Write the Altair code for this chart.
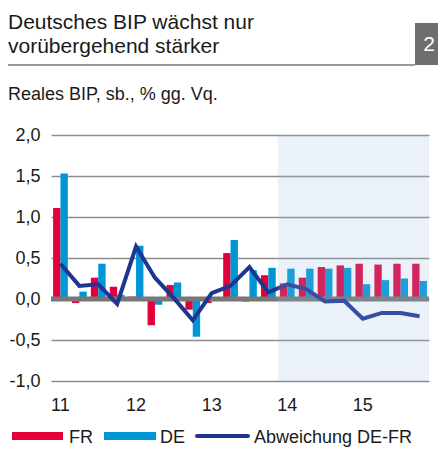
import altair as alt
import pandas as pd

# ---- data ----
quarters = ["11-1", "11-2", "11-3", "11-4", "12-1", "12-2", "12-3", "12-4",
            "13-1", "13-2", "13-3", "13-4", "14-1", "14-2", "14-3", "14-4",
            "15-1", "15-2", "15-3", "15-4"]
year_ticks = ["11-1", "12-1", "13-1", "14-1", "15-1"]
fr = [1.11, -0.05, 0.26, 0.15, 0.03, -0.32, 0.17, -0.13, -0.05, 0.56,
      -0.03, 0.29, 0.19, 0.26, 0.39, 0.41, 0.43, 0.42, 0.43, 0.43]
de = [1.53, 0.09, 0.43, 0.05, 0.65, -0.07, 0.20, -0.46, 0.02, 0.72,
      0.35, 0.38, 0.37, 0.37, 0.37, 0.38, 0.18, 0.23, 0.25, 0.22]
diff = [0.43, 0.16, 0.18, -0.06, 0.64, 0.26, 0.01, -0.26, 0.07, 0.16,
        0.39, 0.08, 0.18, 0.12, -0.03, -0.02, -0.24, -0.17, -0.17, -0.21]
series = ["FR", "DE"]
line_name = "Abweichung DE-FR"
forecast_start = "14-1"
y_ticks = [-1.0, -0.5, 0.0, 0.5, 1.0, 1.5, 2.0]
title_lines = ["Deutsches BIP wächst nur", "vorübergehend stärker"]
subtitle = "Reales BIP, sb., % gg. Vq."
chart_no = "2"

RED = "#e2003a"
BLUE = "#0096d6"
NAVY = "#1f3592"
FONT = "Liberation Sans"

bar_df = pd.DataFrame(
    [{"q": q, "s": "FR", "v": v} for q, v in zip(quarters, fr)]
    + [{"q": q, "s": "DE", "v": v} for q, v in zip(quarters, de)]
)
line_df = pd.DataFrame({"q": quarters, "v": diff})

xscale = alt.Scale(paddingInner=0.22, paddingOuter=0.11)
yscale = alt.Scale(domain=[-1, 2], nice=False)

ylabel = ("(datum.value < 0 ? '-' : '') + "
          "replace(format(abs(datum.value), '.1f'), '.', ',')")

bars = alt.Chart(bar_df).mark_bar().encode(
    x=alt.X("q:O", sort=quarters, scale=xscale, title=None,
            axis=alt.Axis(values=year_ticks, labelExpr="split(datum.value,'-')[0]",
                          ticks=False, domain=False, labelAngle=0, labelFontSize=18,
                          labelPadding=15, grid=False, labelFont=FONT, labelColor="#1a1a1a")),
    xOffset=alt.XOffset("s:N", sort=series, scale=alt.Scale(paddingInner=0.0)),
    y=alt.Y("v:Q", scale=yscale, title=None,
            axis=alt.Axis(values=y_ticks, labelExpr=ylabel,
                          ticks=False, domain=False, labelFontSize=18, labelPadding=11,
                          grid=True, gridColor="#8c8c8c", gridWidth=1.5,
                          labelFont=FONT, labelColor="#1a1a1a")),
    color=alt.Color("s:N", scale=alt.Scale(domain=series, range=[RED, BLUE]), legend=None),
)

zero = alt.Chart(pd.DataFrame({"z": [0.0]})).mark_rule(color="#777777", strokeWidth=5).encode(
    y=alt.Y("z:Q", scale=yscale)
)

line = alt.Chart(line_df).mark_line(color=NAVY, strokeWidth=4).encode(
    x=alt.X("q:O", sort=quarters, scale=xscale),
    y=alt.Y("v:Q", scale=yscale),
)

shade_df = pd.DataFrame({"a": [quarters.index(forecast_start)], "b": [len(quarters)],
                         "top": [y_ticks[-1]], "bot": [y_ticks[0]]})
shade = alt.Chart(shade_df).mark_rect(color="#96b9e1", opacity=0.2).encode(
    x=alt.X("a:Q", scale=alt.Scale(domain=[0, len(quarters)], nice=False, zero=False), axis=None),
    x2="b:Q",
    y=alt.Y("top:Q", scale=yscale),
    y2="bot:Q",
)

plot = alt.layer(alt.layer(bars, zero, line), shade).resolve_scale(x="independent")


def txt(s, x, y, size, color="#1a1a1a", align="left"):
    return alt.Chart(pd.DataFrame({"t": [s]})).mark_text(
        align=align, baseline="alphabetic", fontSize=size, font=FONT, color=color
    ).encode(text="t:N", x=alt.value(x), y=alt.value(y))


t1 = txt(title_lines[0], -43, -106, 21)
t2 = txt(title_lines[1], -43, -82, 21)
st = txt(subtitle, -43, -35, 18)

sep = alt.Chart(pd.DataFrame({"k": [0]})).mark_rule(color="#9a9a9a", strokeWidth=2).encode(
    x=alt.value(-51), x2=alt.value(364), y=alt.value(-70)
)
box = alt.Chart(pd.DataFrame({"k": [0]})).mark_rect(color="#6e6e6e").encode(
    x=alt.value(364), x2=alt.value(390), y=alt.value(-112), y2=alt.value(-70)
)
num = txt(chart_no, 378, -84, 21, color="white", align="center")

# legend
LB = 308
leg_fr = alt.Chart(pd.DataFrame({"k": [0]})).mark_rect(color=RED).encode(
    x=alt.value(-39), x2=alt.value(12), y=alt.value(LB - 11), y2=alt.value(LB - 3))
leg_fr_t = txt(series[0], 18, LB, 18)
leg_de = alt.Chart(pd.DataFrame({"k": [0]})).mark_rect(color=BLUE).encode(
    x=alt.value(53), x2=alt.value(105), y=alt.value(LB - 11), y2=alt.value(LB - 3))
leg_de_t = txt(series[1], 109, LB, 18)
leg_ln = alt.Chart(pd.DataFrame({"k": [0]})).mark_rule(color=NAVY, strokeWidth=4, strokeCap="round").encode(
    x=alt.value(146), x2=alt.value(197), y=alt.value(LB - 7))
leg_ln_t = txt(line_name, 203, LB, 18)

chart = alt.layer(plot, t1, t2, st, sep, box, num,
                  leg_fr, leg_fr_t, leg_de, leg_de_t, leg_ln, leg_ln_t).properties(
    width=378, height=246,
    autosize=alt.AutoSizeParams(type="none"),
    padding={"left": 43, "top": 127, "right": 9, "bottom": 66},
).configure_view(stroke=None)

chart.save("out.html", embed_options={"renderer": "svg", "actions": False})
